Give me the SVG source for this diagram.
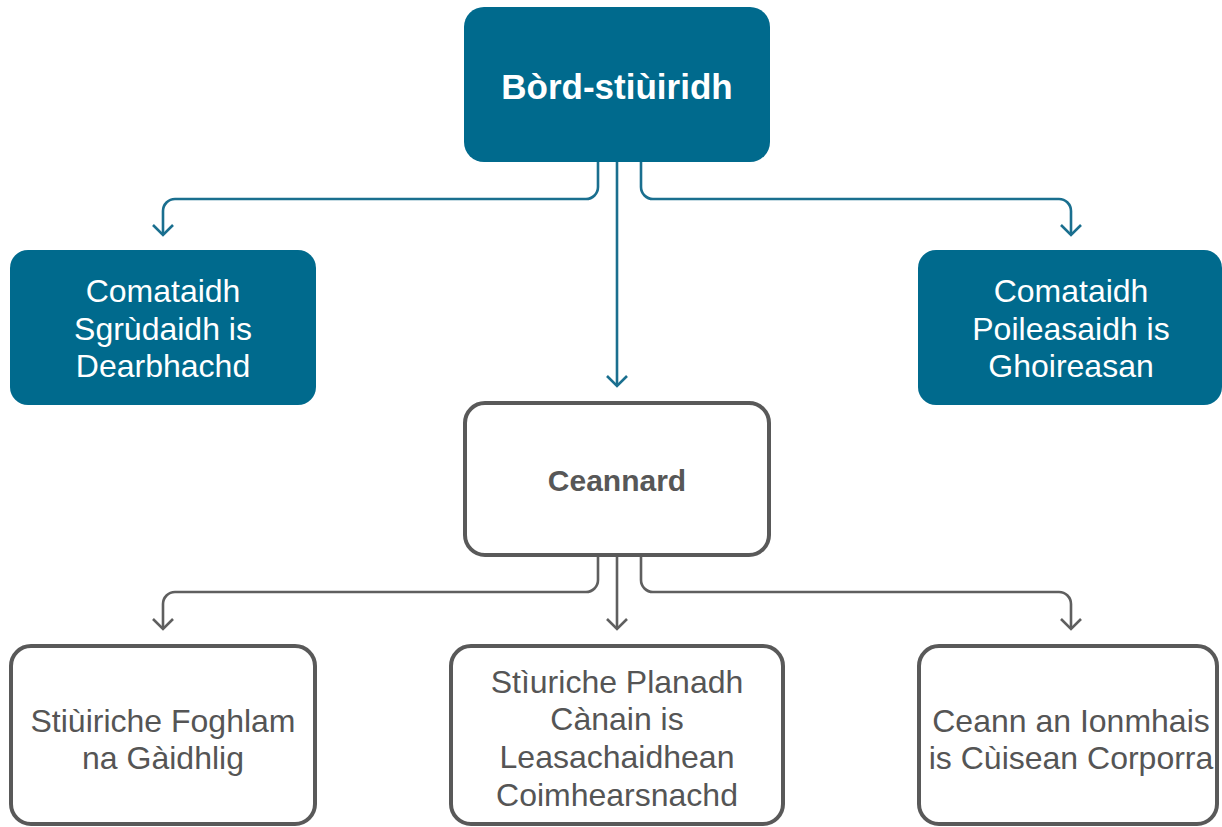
<svg xmlns="http://www.w3.org/2000/svg" width="1222" height="827" viewBox="0 0 1222 827">
<style>
.teal{fill:#006a8d}
.grey{fill:#fff;stroke:#595959;stroke-width:4}
.tw{fill:#fff;font-family:"Liberation Sans",Arial,sans-serif;font-size:32px;text-anchor:middle}
.tg{fill:#555;font-family:"Liberation Sans",Arial,sans-serif;font-size:32px;text-anchor:middle}
.cb{stroke:#1a6f8f;stroke-width:2.6;fill:none}
.cg{stroke:#5f5f5f;stroke-width:2.6;fill:none}
</style>
<defs>
<marker id="ab" viewBox="0 0 24 14" refX="12" refY="12" markerWidth="24" markerHeight="14" markerUnits="userSpaceOnUse" orient="0">
<path d="M2 2 L12 12 L22 2" fill="none" stroke="#1a6f8f" stroke-width="2.6"/>
</marker>
<marker id="ag" viewBox="0 0 24 14" refX="12" refY="12" markerWidth="24" markerHeight="14" markerUnits="userSpaceOnUse" orient="0">
<path d="M2 2 L12 12 L22 2" fill="none" stroke="#5f5f5f" stroke-width="2.6"/>
</marker>
</defs>
<rect width="1222" height="827" fill="#fff"/>
<g id="connectors">
<path class="cb" d="M598 162 V187 A12 12 0 0 1 586 199 H175 A12 12 0 0 0 163 211 V235" marker-end="url(#ab)"/>
<path class="cb" d="M617 162 V386" marker-end="url(#ab)"/>
<path class="cb" d="M641 162 V187 A12 12 0 0 0 653 199 H1059 A12 12 0 0 1 1071 211 V235" marker-end="url(#ab)"/>
<path class="cg" d="M598 557 V580 A12 12 0 0 1 586 592 H175 A12 12 0 0 0 163 604 V629" marker-end="url(#ag)"/>
<path class="cg" d="M617 557 V629" marker-end="url(#ag)"/>
<path class="cg" d="M641 557 V580 A12 12 0 0 0 653 592 H1059 A12 12 0 0 1 1071 604 V629" marker-end="url(#ag)"/>
</g>
<g id="bord">
<rect class="teal" x="464" y="7" width="306" height="155" rx="20"/>
<text x="617" y="99" fill="#fff" font-family="Liberation Sans,Arial,sans-serif" font-size="35" font-weight="bold" text-anchor="middle">Bòrd-stiùiridh</text>
</g>
<g id="comataidh-sgrudaidh">
<rect class="teal" x="10" y="250" width="306" height="155" rx="18"/>
<text class="tw" x="163" y="302">Comataidh</text>
<text class="tw" x="163" y="340">Sgrùdaidh is</text>
<text class="tw" x="163" y="377">Dearbhachd</text>
</g>
<g id="comataidh-poileasaidh">
<rect class="teal" x="918" y="250" width="304" height="155" rx="18"/>
<text class="tw" x="1071" y="302">Comataidh</text>
<text class="tw" x="1071" y="340">Poileasaidh is</text>
<text class="tw" x="1071" y="377">Ghoireasan</text>
</g>
<g id="ceannard">
<rect class="grey" x="465" y="403" width="304" height="152" rx="20"/>
<text x="617" y="491" fill="#575757" font-family="Liberation Sans,Arial,sans-serif" font-size="30" font-weight="bold" text-anchor="middle">Ceannard</text>
</g>
<g id="stiuiriche-foghlam">
<rect class="grey" x="11" y="646" width="304" height="178" rx="20"/>
<text class="tg" x="163" y="732">Stiùiriche Foghlam</text>
<text class="tg" x="163" y="769">na Gàidhlig</text>
</g>
<g id="stiuriche-planadh">
<rect class="grey" x="451" y="646" width="332" height="178" rx="20"/>
<text class="tg" x="617" y="693">Stìuriche Planadh</text>
<text class="tg" x="617" y="730">Cànain is</text>
<text class="tg" x="617" y="768">Leasachaidhean</text>
<text class="tg" x="617" y="806">Coimhearsnachd</text>
</g>
<g id="ceann-ionmhais">
<rect class="grey" x="919" y="646" width="298" height="178" rx="20"/>
<text class="tg" x="1071" y="732">Ceann an Ionmhais</text>
<text class="tg" x="1071" y="769">is Cùisean Corporra</text>
</g>
</svg>
